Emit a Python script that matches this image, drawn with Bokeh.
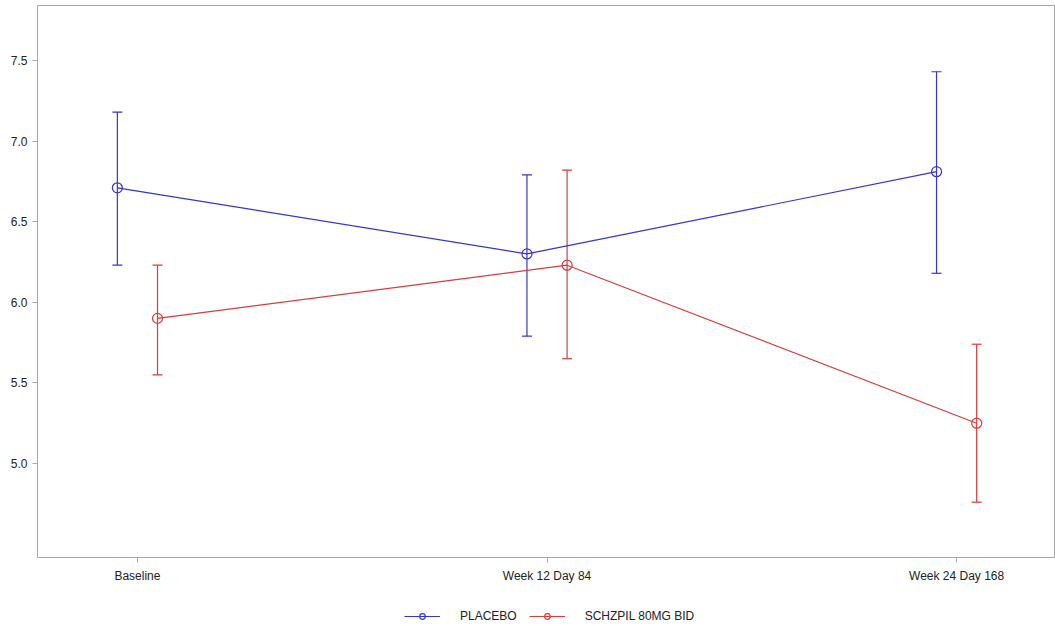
from bokeh.plotting import figure
from bokeh.layouts import column
from bokeh.models import (ColumnDataSource, Whisker, TeeHead, Legend, LegendItem,
                          FixedTicker, Range1d)
from bokeh.embed import file_html
from bokeh.resources import INLINE

visits = ["Baseline", "Week 12 Day 84", "Week 24 Day 168"]
visit_idx = [0, 1, 2]

placebo_mean = [6.71, 6.30, 6.81]
placebo_upper = [7.18, 6.79, 7.43]
placebo_lower = [6.23, 5.79, 6.18]

drug_mean = [5.90, 6.23, 5.25]
drug_upper = [6.23, 6.82, 5.74]
drug_lower = [5.55, 5.65, 4.76]

y_ticks = [5.0, 5.5, 6.0, 6.5, 7.0, 7.5]

BLUE = "#3535D6"
RED = "#DE3A3A"
GRAY = "#A8A8A8"
FONT = "Liberation Sans"
DODGE = 0.049

p = figure(width=1055, height=600, output_backend="svg", toolbar_location=None,
           x_range=Range1d(-0.244, 2.239), y_range=Range1d(4.417, 7.841),
           min_border_left=37, min_border_right=1, min_border_top=5,
           min_border_bottom=43)
p.outline_line_color = GRAY
p.outline_line_width = 1
p.xgrid.visible = False
p.ygrid.visible = False
p.background_fill_color = "white"
p.border_fill_color = "white"

# legend strip: same sources, but its y range (0..1) lies outside the data,
# so only the legend itself is visible there
lg = figure(width=1055, height=26, output_backend="svg", toolbar_location=None,
            x_range=Range1d(0, 1), y_range=Range1d(0, 1),
            x_axis_location=None, y_axis_location=None,
            min_border_left=0, min_border_right=0, min_border_top=0, min_border_bottom=0)
lg.outline_line_color = None
lg.xgrid.visible = False
lg.ygrid.visible = False

series = [
    ("PLACEBO", placebo_mean, placebo_upper, placebo_lower, BLUE, -DODGE),
    ("SCHZPIL 80MG BID", drug_mean, drug_upper, drug_lower, RED, DODGE),
]
items = []
for name, mean, up, lo, col, off in series:
    src = ColumnDataSource(dict(x=[i + off for i in visit_idx], y=mean, up=up, lo=lo))
    w = Whisker(source=src, base="x", upper="up", lower="lo", dimension="height",
                line_color=col, line_width=1.2,
                upper_head=TeeHead(size=10, line_color=col, line_width=1.2),
                lower_head=TeeHead(size=10, line_color=col, line_width=1.2))
    p.add_layout(w)
    p.line("x", "y", source=src, line_color=col, line_width=1.2)
    p.scatter("x", "y", source=src, marker="circle", size=10,
              line_color=col, line_width=1.2, fill_color=None)
    ln = lg.line("x", "y", source=src, line_color=col, line_width=1.2)
    sc = lg.scatter("x", "y", source=src, marker="circle", size=8,
                    line_color=col, line_width=1.2, fill_color=None)
    items.append(LegendItem(label=name, renderers=[ln, sc]))

for ax in (p.xaxis[0], p.yaxis[0]):
    ax.axis_line_color = GRAY
    ax.major_tick_line_color = GRAY
    ax.minor_tick_line_color = None
    ax.major_tick_out = 5
    ax.major_tick_in = 0
    ax.major_label_text_font = FONT
    ax.major_label_text_font_size = "12px"
    ax.major_label_text_color = "#222222"

p.xaxis.ticker = FixedTicker(ticks=visit_idx)
p.xaxis.major_label_overrides = {i: v for i, v in zip(visit_idx, visits)}
p.xaxis.major_label_standoff = 6
p.yaxis.ticker = FixedTicker(ticks=y_ticks)
p.yaxis.major_label_overrides = {t: f"{t:.1f}" for t in y_ticks}
p.yaxis.major_label_standoff = 5

legend = Legend(items=items, orientation="horizontal", location=(367, 3),
                label_text_font=FONT, label_text_font_size="12px",
                label_text_color="#222222", glyph_width=36, glyph_height=14,
                label_standoff=20, spacing=12, padding=2, margin=0,
                border_line_color=None, background_fill_alpha=0)
lg.add_layout(legend, "center")

layout = column(p, lg, spacing=0)
open("out.html", "w").write(file_html(layout, INLINE))
